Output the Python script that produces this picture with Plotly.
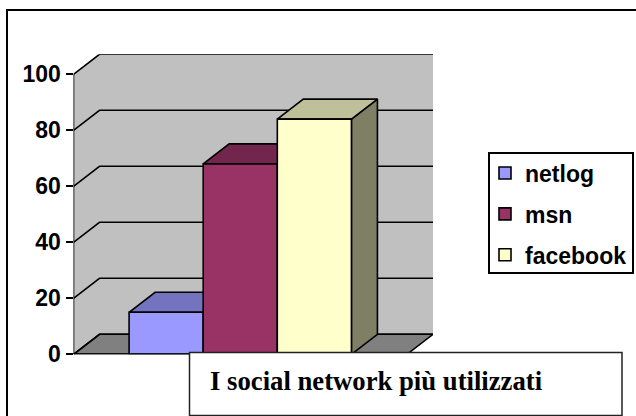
import plotly.graph_objects as go

# ---- data ----
series_names = ["netlog", "msn", "facebook"]
series_values = [15, 68, 84]
tick_values = [0, 20, 40, 60, 80, 100]
chart_title = "I social network più utilizzati"

# ---- styles ----
front_colors = ["#9999FF", "#993366", "#FFFFCC"]
top_colors = ["#7373BF", "#73264D", "#BFBF99"]
side_colors = ["#73739F", "#4D1933", "#7F7F66"]
WALL = "#C0C0C0"
FLOOR = "#808080"
INK = "#000000"
LW = 1.6

W, H = 636, 416
DEPTH_X = 26 / 333.5      # depth of the 3D box, in x-axis units
DEPTH_Y = 20 / 2.8        # depth of the 3D box, in value units
BAR_W = 2 / 9
X0, X1 = -0.5, 0.5
Y_MAX = 100


def px(x):
    return x / W


def py(y):
    return 1 - y / H


def poly(xs, ys, fill, zorder):
    return go.Scatter(x=xs, y=ys, mode="lines", fill="toself", fillcolor=fill,
                      line=dict(color=INK, width=LW), showlegend=False,
                      hoverinfo="skip", zorder=zorder, cliponaxis=False)


fig = go.Figure()

# walls and floor
fig.add_trace(go.Scatter(
    x=[X0, X0 + DEPTH_X, X1 + DEPTH_X, X1 + DEPTH_X, X0 + DEPTH_X, X0],
    y=[0, DEPTH_Y, DEPTH_Y, Y_MAX + DEPTH_Y, Y_MAX + DEPTH_Y, Y_MAX],
    mode="lines", fill="toself", fillcolor=WALL, line=dict(width=0),
    showlegend=False, hoverinfo="skip", zorder=0, cliponaxis=False))
fig.add_trace(poly([X0, X0 + DEPTH_X, X1 + DEPTH_X, X1, X0],
                   [0, DEPTH_Y, DEPTH_Y, 0, 0], FLOOR, 1))

# gridlines, running up the side wall and along the back wall
for v in tick_values:
    fig.add_trace(go.Scatter(
        x=[X0, X0 + DEPTH_X, X1 + DEPTH_X],
        y=[v, v + DEPTH_Y, v + DEPTH_Y],
        mode="lines", line=dict(color=INK, width=LW), showlegend=False,
        hoverinfo="skip", zorder=1, cliponaxis=False))

# left edge of the side wall
fig.add_trace(go.Scatter(x=[X0, X0], y=[0, Y_MAX], mode="lines",
                         line=dict(color=INK, width=LW), showlegend=False,
                         hoverinfo="skip", zorder=1, cliponaxis=False))

# boxes
for i, (name, v) in enumerate(zip(series_names, series_values)):
    left = -1 / 3 + i * BAR_W
    right = left + BAR_W
    z = 2 + 2 * i
    fig.add_trace(poly([right, right + DEPTH_X, right + DEPTH_X, right, right],
                       [0, DEPTH_Y, v + DEPTH_Y, v, 0], side_colors[i], z))
    fig.add_trace(poly([left, left + DEPTH_X, right + DEPTH_X, right, left],
                       [v, v + DEPTH_Y, v + DEPTH_Y, v, v], top_colors[i], z))
    fig.add_trace(go.Bar(
        x=[0], y=[v], width=BAR_W, offset=left, name=name,
        marker=dict(color=front_colors[i], line=dict(color=INK, width=LW)),
        legendgroup=name, zorder=z + 1, cliponaxis=False,
    ))

# front edge of the floor
fig.add_trace(go.Scatter(x=[X0, X1], y=[0, 0], mode="lines",
                         line=dict(color=INK, width=2), showlegend=False,
                         hoverinfo="skip", zorder=10, cliponaxis=False))

shapes = [
    # outer frame, running off the right and bottom of the picture
    dict(type="rect", xref="paper", yref="paper", layer="above",
         x0=px(7), x1=px(W + 10), y0=py(H + 10), y1=py(10),
         line=dict(color=INK, width=2), fillcolor="rgba(0,0,0,0)"),
    # legend frame
    dict(type="rect", xref="paper", yref="paper", layer="above",
         x0=px(489), x1=px(633), y0=py(273), y1=py(153),
         line=dict(color=INK, width=2), fillcolor="#FFFFFF"),
    # caption box
    dict(type="rect", xref="paper", yref="paper", layer="above",
         x0=px(189.5), x1=px(622), y0=py(415.5), y1=py(352.5),
         line=dict(color="#222222", width=1.5), fillcolor="#FFFFFF"),
]

fig.update_layout(
    width=W, height=H, autosize=False,
    margin=dict(l=0, r=0, t=0, b=0, pad=0, autoexpand=False),
    paper_bgcolor="#FFFFFF", plot_bgcolor="rgba(0,0,0,0)",
    barmode="overlay",
    shapes=shapes,
    annotations=[dict(text=chart_title, xref="paper", yref="paper",
                      x=px(208), y=py(381), xanchor="left", yanchor="middle",
                      showarrow=False,
                      font=dict(family="Liberation Serif", size=26.7, color=INK,
                                weight="bold"))],
    legend=dict(x=px(485), y=py(151.5), xanchor="left", yanchor="top",
                bgcolor="rgba(0,0,0,0)", borderwidth=0,
                tracegroupgap=8, traceorder="grouped",
                font=dict(family="Liberation Sans", size=23, color=INK,
                          weight="bold")),
    xaxis=dict(domain=[px(73.5), px(433)], range=[X0, X1 + DEPTH_X],
               showgrid=False, zeroline=False, showticklabels=False,
               ticks="", showline=False),
    yaxis=dict(domain=[py(354.3), py(54.3)], range=[0, Y_MAX + DEPTH_Y],
               tickmode="array", tickvals=tick_values,
               ticks="outside", ticklen=7, tickwidth=2, tickcolor=INK,
               showgrid=False, zeroline=False, showline=False,
               tickfont=dict(family="Liberation Sans", size=23, color=INK,
                             weight="bold")),
)

fig.write_html("out.html", config=dict(displayModeBar=False),
               default_width="636px", default_height="416px",
               post_script="document.documentElement.style.overflow='hidden';document.body.style.margin='0';")
